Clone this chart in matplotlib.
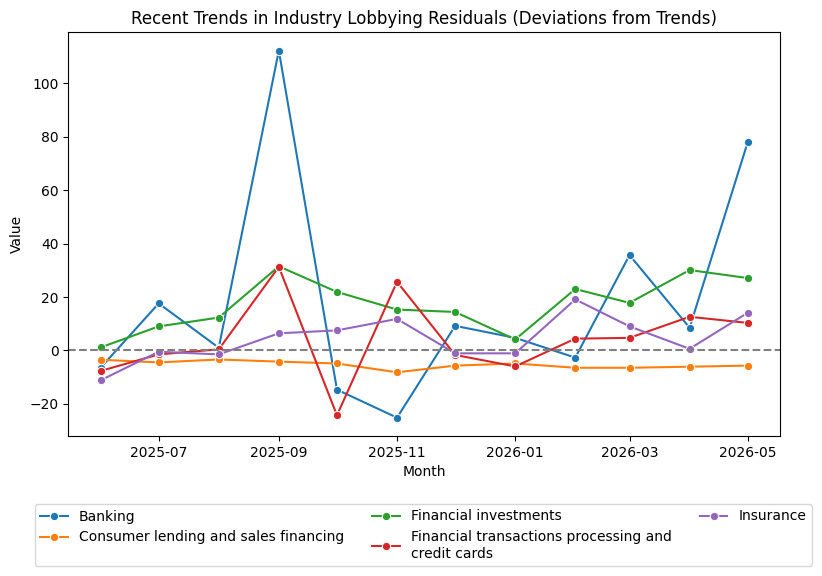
import matplotlib
matplotlib.use("Agg")
from matplotlib import pyplot as plt
import numpy as np
import pandas as pd
import seaborn as sns

# Datos (residuos mensuales)
meses = pd.date_range("2025-06-01", "2026-05-01", freq="MS")

banking = [-6.5, 17.6, 1.0, 112.3, -14.7, -25.2, 9.2, 4.7, -2.7, 35.7, 8.5, 78.0]
consumer = [-3.5, -4.5, -3.4, -4.2, -4.9, -8.2, -5.7, -4.9, -6.5, -6.5, -6.1, -5.7]
investments = [1.1, 9.0, 12.3, 31.5, 21.9, 15.3, 14.4, 4.1, 23.0, 17.8, 30.1, 27.1]
transactions = [-7.7, -1.5, 0.4, 31.3, -24.3, 25.7, -1.7, -6.0, 4.4, 4.7, 12.6, 10.3]
insurance = [-11.2, -0.5, -1.5, 6.4, 7.5, 11.8, -1.1, -1.1, 19.1, 9.0, 0.6, 14.1]

industrias = [
    "Banking",
    "Consumer lending and sales financing",
    "Financial investments",
    "Financial transactions processing and\ncredit cards",
    "Insurance",
]
series = [banking, consumer, investments, transactions, insurance]

df = pd.concat(
    [pd.DataFrame({"Month": meses, "Value": s, "Industry": n}) for n, s in zip(industrias, series)],
    ignore_index=True,
)

fig, ax = plt.subplots(figsize=(8.22, 5.76), dpi=100)
fig.subplots_adjust(left=0.083, right=0.949, top=0.944, bottom=0.243)

sns.lineplot(data=df, x="Month", y="Value", hue="Industry", marker="o", ax=ax)
ax.axhline(0, color="gray", linestyle="--")

ax.set_title("Recent Trends in Industry Lobbying Residuals (Deviations from Trends)")
ax.set_xlabel("Month")
ax.set_ylabel("Value")

handles, labels = ax.get_legend_handles_labels()
ax.get_legend().remove()
fig.legend(handles, labels, loc="upper center", bbox_to_anchor=(0.515, 1 - 497 / 576), ncol=3)

fig.savefig("out.png", dpi=100)
